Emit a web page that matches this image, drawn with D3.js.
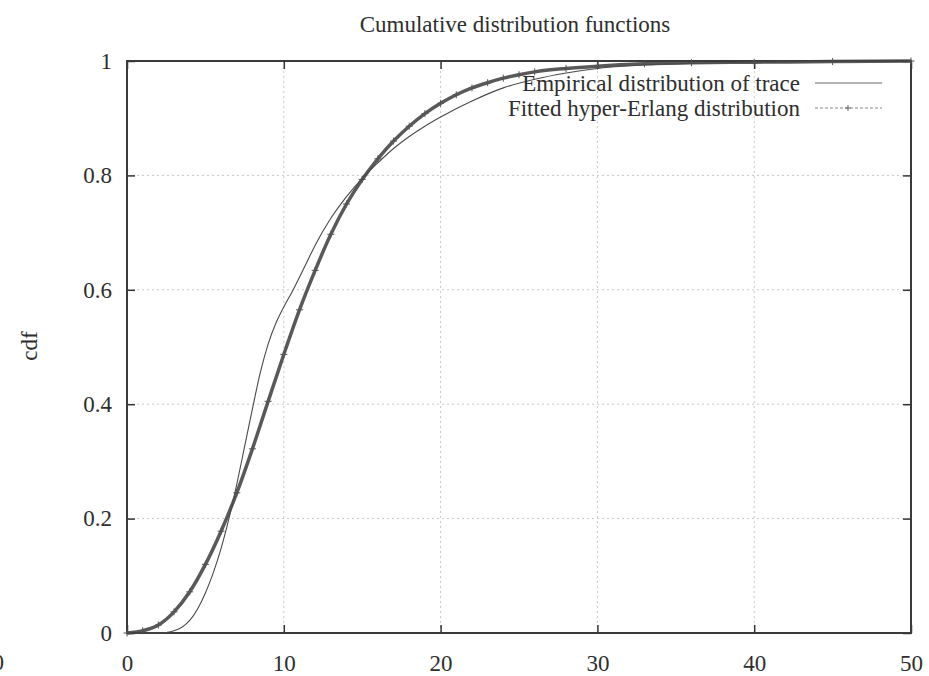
<!DOCTYPE html>
<html>
<head>
<meta charset="utf-8">
<script src="https://cdn.jsdelivr.net/npm/d3@7"></script>
<style>
    body { margin: 0; background: #fff; }
    text { font-family: "Liberation Serif", "DejaVu Serif", serif; fill: #2e2e2e; }
</style>
</head>
<body>
<script>
// Données
const xTicks = [0, 10, 20, 30, 40, 50]
const yTicks = [0, 0.2, 0.4, 0.6, 0.8, 1]
const yTickLabels = ['0', '0.2', '0.4', '0.6', '0.8', '1']

// Distribution empirique (trait fin)
const empiricalX = [0, 2, 2.5, 3, 3.5, 4, 4.5, 5, 5.5, 6, 6.5, 7, 7.5, 8, 8.5, 9, 9.5, 10, 10.5, 11, 11.5, 12, 13, 14, 15, 16, 17, 18, 19, 20, 22, 24, 26, 28, 30, 33, 36, 40, 50]
const empiricalY = [0, 0, 0.001, 0.004, 0.01, 0.022, 0.042, 0.07, 0.105, 0.148, 0.2, 0.26, 0.326, 0.392, 0.455, 0.505, 0.542, 0.57, 0.595, 0.622, 0.65, 0.678, 0.725, 0.763, 0.795, 0.822, 0.847, 0.868, 0.886, 0.902, 0.93, 0.953, 0.968, 0.979, 0.987, 0.993, 0.996, 0.998, 1]

// Distribution hyper-Erlang ajustée (trait + croix)
const fittedX = [0, 1, 2, 3, 4, 5, 6, 7, 8, 9, 10, 11, 12, 13, 14, 15, 16, 17, 18, 19, 20, 21, 22, 23, 24, 25, 26, 28, 30, 33, 36, 40, 45, 50]
const fittedY = [0, 0.004, 0.014, 0.037, 0.072, 0.12, 0.178, 0.245, 0.322, 0.405, 0.487, 0.565, 0.634, 0.697, 0.75, 0.793, 0.829, 0.86, 0.886, 0.908, 0.926, 0.941, 0.953, 0.962, 0.97, 0.976, 0.981, 0.987, 0.991, 0.995, 0.997, 0.998, 0.999, 1]

const seriesNames = ['Empirical distribution of trace', 'Fitted hyper-Erlang distribution']

const empirical = empiricalX.map((d, i) => ({ x: d, y: empiricalY[i] }))
const fitted = fittedX.map((d, i) => ({ x: d, y: fittedY[i] }))

// Dimensions et marges
const margin = { top: 61, right: 18, bottom: 43, left: 127 },
    width = 929 - margin.left - margin.right,
    height = 676 - margin.top - margin.bottom

const svgRoot = d3.select('body').append('svg')
    .attr('width', 929)
    .attr('height', 676)

const svg = svgRoot.append('g')
    .attr('transform', `translate(${margin.left}, ${margin.top})`)

const x = d3.scaleLinear().domain([0, 50]).range([0, width])
const y = d3.scaleLinear().domain([0, 1]).range([height, 0])

// Grille pointillée
svg.append('g')
    .selectAll('line')
    .data(xTicks.slice(1, -1))
    .join('line')
    .attr('x1', d => x(d)).attr('x2', d => x(d))
    .attr('y1', 0).attr('y2', height)
    .attr('stroke', '#c8c8c8')
    .attr('stroke-dasharray', '2,3')

svg.append('g')
    .selectAll('line')
    .data(yTicks.slice(1, -1))
    .join('line')
    .attr('x1', 0).attr('x2', width)
    .attr('y1', d => y(d)).attr('y2', d => y(d))
    .attr('stroke', '#c8c8c8')
    .attr('stroke-dasharray', '2,3')

// Axes (graduations vers l'intérieur, comme gnuplot)
const fontSize = 23

svg.append('g')
    .attr('transform', `translate(0, ${height})`)
    .call(d3.axisBottom(x).tickValues(xTicks).tickSize(-8).tickPadding(22))
svg.append('g')
    .call(d3.axisLeft(y).tickValues(yTicks).tickFormat((d, i) => yTickLabels[i]).tickSize(-8).tickPadding(15))
svg.append('g')
    .call(d3.axisTop(x).tickValues(xTicks).tickSize(-8).tickFormat(''))
svg.append('g')
    .attr('transform', `translate(${width}, 0)`)
    .call(d3.axisRight(y).tickValues(yTicks).tickSize(-8).tickFormat(''))

svg.selectAll('.domain').remove()
svg.selectAll('.tick line').attr('stroke', '#333').attr('stroke-width', 1.5)
svg.selectAll('.tick text')
    .attr('font-family', '"Liberation Serif", serif')
    .attr('font-size', fontSize)
    .attr('fill', '#2e2e2e')

// Cadre
svg.append('rect')
    .attr('x', 0).attr('y', 0)
    .attr('width', width).attr('height', height)
    .attr('fill', 'none')
    .attr('stroke', '#3a3a3a')
    .attr('stroke-width', 2)

// Courbes
const line = d3.line()
    .x(d => x(d.x))
    .y(d => y(d.y))
    .curve(d3.curveMonotoneX)

svg.append('path')
    .datum(fitted)
    .attr('d', line)
    .attr('fill', 'none')
    .attr('stroke', '#3c3c3c')
    .attr('stroke-width', 3.5)
    .attr('stroke-opacity', 0.85)

svg.append('g')
    .selectAll('path')
    .data(fitted)
    .join('path')
    .attr('transform', d => `translate(${x(d.x)}, ${y(d.y)})`)
    .attr('d', 'M-3.5,0H3.5M0,-3.5V3.5')
    .attr('stroke', '#555')
    .attr('stroke-width', 1)

svg.append('path')
    .datum(empirical)
    .attr('d', line)
    .attr('fill', 'none')
    .attr('stroke', '#4a4a4a')
    .attr('stroke-width', 1.1)

// Titre et libellé de l'axe Y
svgRoot.append('text')
    .attr('x', 515)
    .attr('y', 32)
    .attr('text-anchor', 'middle')
    .attr('font-size', fontSize)
    .text('Cumulative distribution functions')

svgRoot.append('text')
    .attr('transform', 'translate(37, 346) rotate(-90)')
    .attr('text-anchor', 'middle')
    .attr('font-size', fontSize)
    .text('cdf')

// "0" coupé au bord gauche (reste de la figure voisine)
svgRoot.append('text')
    .attr('x', 4)
    .attr('y', 670)
    .attr('text-anchor', 'end')
    .attr('font-size', fontSize)
    .text('0')

// Légende
const legend = svgRoot.append('g')

legend.selectAll('text')
    .data(seriesNames)
    .join('text')
    .attr('x', 800)
    .attr('y', (d, i) => 91 + i * 25)
    .attr('text-anchor', 'end')
    .attr('font-size', fontSize)
    .text(d => d)

legend.append('line')
    .attr('x1', 815).attr('x2', 882)
    .attr('y1', 83).attr('y2', 83)
    .attr('stroke', '#666')
    .attr('stroke-width', 1)

legend.append('line')
    .attr('x1', 815).attr('x2', 882)
    .attr('y1', 108).attr('y2', 108)
    .attr('stroke', '#888')
    .attr('stroke-width', 1)
    .attr('stroke-dasharray', '3,2')

legend.append('path')
    .attr('transform', 'translate(848, 108)')
    .attr('d', 'M-3,0H3M0,-3V3')
    .attr('stroke', '#666')
    .attr('stroke-width', 1)
</script>
</body>
</html>
